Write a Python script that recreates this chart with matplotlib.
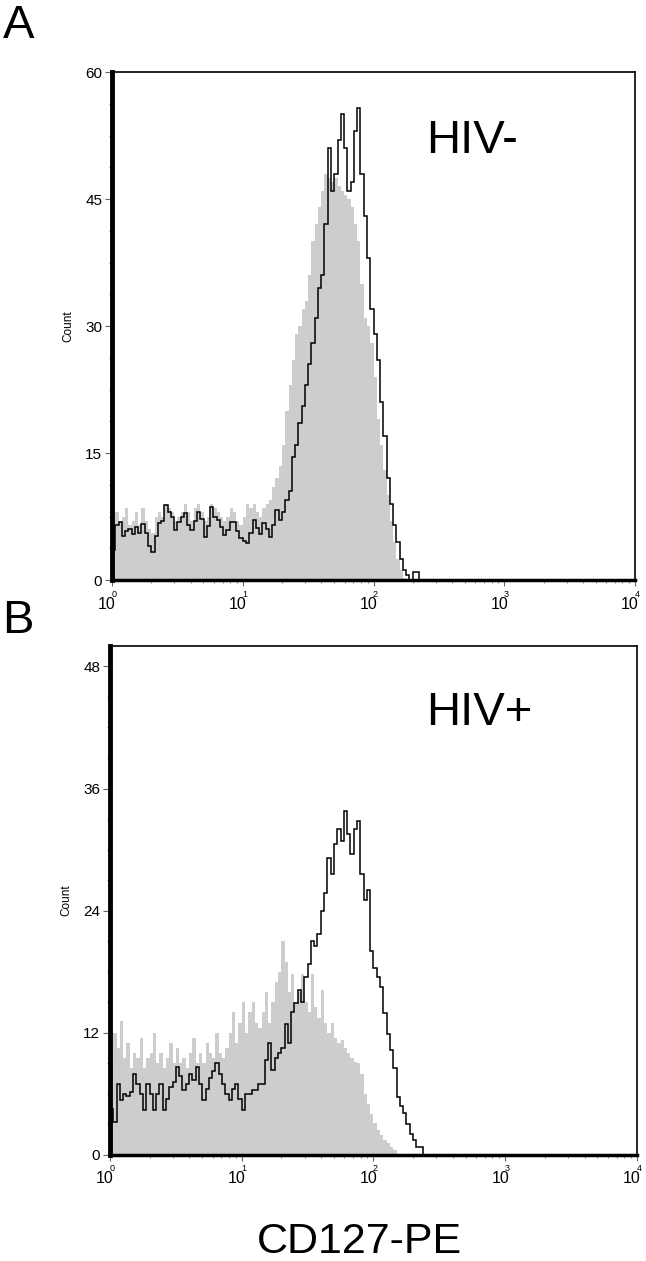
import numpy as np
import matplotlib
matplotlib.use("Agg")
import matplotlib.pyplot as plt
from matplotlib.ticker import FixedLocator, AutoMinorLocator, LogLocator, NullFormatter

plt.rcParams['font.family'] = ['Liberation Sans', 'DejaVu Sans']

# channel width in decades (log10 units), histogram starts at 10^0
bin_width = 0.025

# Panel A (HIV-): black outline histogram and grey filled histogram
hivneg_line = [3.5, 6.5, 6.8, 5.2, 5.8, 6.0, 5.4, 6.3, 5.6, 6.6,
               5.5, 4.0, 3.3, 5.2, 6.7, 7.0, 8.9, 8.0, 7.5, 5.9,
               6.8, 7.4, 7.9, 6.5, 5.9, 7.0, 8.0, 7.2, 5.1, 6.4,
               8.6, 7.5, 7.1, 6.3, 5.3, 5.9, 6.9, 6.9, 5.8, 5.0,
               4.6, 4.4, 5.5, 7.1, 6.2, 5.4, 6.7, 6.0, 5.1, 6.5,
               8.3, 7.1, 8.0, 9.4, 10.5, 14.5, 16.0, 18.5, 20.5, 23.0,
               25.5, 28.0, 31.0, 34.5, 36.0, 42.0, 51.0, 46.0, 48.0, 52.0,
               55.0, 51.0, 46.0, 47.0, 53.0, 55.8, 48.0, 43.0, 38.0, 32.0,
               29.0, 26.0, 21.0, 17.0, 12.0, 9.0, 6.5, 4.5, 2.5, 1.2,
               0.6, 0.0, 1.0, 1.0, 0.0]
hivneg_fill = [6.5, 8.0, 7.0, 7.5, 8.5, 6.5, 7.0, 8.0, 6.5, 8.5,
               7.0, 6.0, 5.5, 7.5, 8.0, 7.5, 9.0, 8.5, 8.0, 7.0,
               7.5, 8.0, 9.0, 8.0, 7.0, 8.5, 9.0, 8.0, 7.0, 7.5,
               9.0, 8.5, 8.0, 7.5, 7.0, 7.5, 8.5, 8.0, 7.0, 6.5,
               7.5, 9.0, 8.5, 9.0, 8.0, 7.5, 8.5, 9.0, 9.5, 11.0,
               12.0, 13.5, 16.0, 20.0, 23.0, 26.0, 29.0, 30.0, 32.0, 33.0,
               36.0, 40.0, 42.0, 44.0, 46.0, 48.0, 47.5, 47.0, 47.5, 46.5,
               46.0, 45.5, 45.0, 44.0, 42.0, 40.0, 35.0, 31.0, 30.0, 28.0,
               24.0, 19.0, 16.0, 13.0, 10.0, 7.0, 4.5, 2.5, 1.2, 0.3,
               0.0]

# Panel B (HIV+)
hivpos_line = [4.5, 3.2, 7.0, 5.4, 6.0, 5.8, 6.2, 8.0, 7.0, 6.0,
               4.4, 7.0, 6.0, 4.4, 6.0, 7.0, 4.4, 5.5, 6.7, 7.2,
               8.6, 7.8, 6.4, 7.0, 8.0, 7.4, 8.6, 7.0, 5.4, 6.5,
               7.6, 8.2, 9.0, 8.0, 7.0, 6.0, 5.4, 6.5, 7.0, 5.5,
               4.4, 6.0, 6.0, 6.4, 6.4, 7.0, 7.0, 9.3, 11.0, 8.3,
               9.5, 10.0, 10.5, 12.9, 11.0, 14.0, 14.9, 16.2, 15.0, 17.5,
               18.8, 21.0, 20.5, 21.7, 24.0, 25.7, 29.2, 27.6, 30.5, 32.0,
               30.8, 33.8, 31.5, 29.6, 32.0, 32.8, 27.6, 25.0, 26.0, 20.0,
               18.4, 17.5, 16.5, 13.9, 11.9, 10.3, 8.5, 5.7, 4.8, 4.1,
               3.0, 2.1, 1.5, 0.8, 0.8, 0.0]
hivpos_fill = [9.0, 12.0, 10.5, 13.2, 9.5, 11.0, 8.5, 10.0, 9.5, 11.5,
               8.5, 9.5, 10.0, 12.0, 9.0, 10.0, 8.5, 9.5, 11.0, 9.0,
               10.5, 9.0, 9.5, 8.5, 10.0, 11.5, 9.0, 10.0, 9.0, 11.0,
               10.0, 9.5, 12.0, 10.0, 9.5, 10.5, 12.0, 14.0, 11.0, 13.0,
               15.0, 12.0, 14.0, 15.0, 13.0, 12.5, 14.0, 16.0, 13.0, 15.0,
               17.0, 18.0, 21.0, 19.0, 16.0, 17.8, 15.0, 16.0, 17.8, 15.0,
               14.0, 17.8, 14.5, 13.5, 16.2, 13.0, 12.0, 13.0, 11.5, 11.0,
               11.3, 10.5, 10.0, 9.5, 9.1, 9.0, 8.0, 6.0, 5.0, 4.0,
               3.1, 2.5, 2.0, 1.5, 1.2, 0.8, 0.5, 0.0]

panels = ["A", "B"]
labels = ["HIV-", "HIV+"]
ymax = [60, 50]
ymajor = [[0, 15, 30, 45, 60], [0, 12, 24, 36, 48]]
xticks = [1, 10, 100, 1000, 10000]
xtick_base = "10"
xtick_exp = ["0", "1", "2", "3", "4"]
xlabel = "CD127-PE"

fig = plt.figure(figsize=(6.46, 12.61), dpi=100)
rects = [[0.1734, 0.540, 0.8096, 0.4029], [0.1703, 0.0841, 0.8157, 0.4036]]
data = [(hivneg_line, hivneg_fill), (hivpos_line, hivpos_fill)]
letter_y = [0.970, 0.498]
label_y = [0.841, 0.845]

for k in range(2):
    ax = fig.add_axes(rects[k])
    line, fill = data[k]
    e_fill = 10 ** (np.arange(len(fill) + 1) * bin_width)
    e_line = 10 ** (np.arange(len(line) + 1) * bin_width)
    ax.stairs(fill, e_fill, fill=True, color="#cdcdcd", lw=0, zorder=1)
    ax.stairs(line, e_line, color="black", lw=1.1, zorder=2)
    ax.set_xscale("log")
    ax.set_xlim(1, 1e4)
    ax.set_ylim(0, ymax[k])
    ax.yaxis.set_major_locator(FixedLocator(ymajor[k]))
    ax.yaxis.set_minor_locator(AutoMinorLocator(4))
    ax.set_xticks(xticks)
    ax.set_xticklabels([""] * len(xticks))
    ax.xaxis.set_minor_locator(LogLocator(base=10, subs=np.arange(2, 10)))
    ax.xaxis.set_minor_formatter(NullFormatter())
    ax.tick_params(axis="y", which="major", direction="out", length=5, width=0.8,
                   color="#666666", labelsize=11, pad=2)
    ax.tick_params(axis="y", which="minor", direction="out", length=2.5, width=0.8,
                   color="#888888")
    ax.tick_params(axis="x", which="major", direction="out", length=4, width=0.8,
                   color="#666666")
    ax.tick_params(axis="x", which="minor", direction="out", length=2.5, width=0.8,
                   color="#888888")
    for v, e in zip(xticks, xtick_exp):
        ax.annotate(xtick_base, xy=(v, 0), xycoords=("data", "axes fraction"),
                    xytext=(-5, -24), textcoords="offset pixels",
                    ha="center", va="center", fontsize=11.5)
        ax.annotate(e, xy=(v, 0), xycoords=("data", "axes fraction"),
                    xytext=(2, -14), textcoords="offset pixels",
                    ha="center", va="center", fontsize=6.5)
    ax.spines["left"].set_linewidth(3.5)
    ax.spines["bottom"].set_linewidth(2.5)
    ax.spines["top"].set_linewidth(1.2)
    ax.spines["right"].set_linewidth(1.2)
    ax.set_ylabel("Count", fontsize=8.5, labelpad=8)
    ax.text(0.60, label_y[k], labels[k], transform=ax.transAxes, fontsize=34,
            ha="left", va="baseline")
    fig.text(0.004, letter_y[k], panels[k], fontsize=34, ha="left", va="baseline")
    if k == 1:
        fig.text(0.556, 0.0065, xlabel, fontsize=31, ha="center", va="baseline")

fig.savefig("out.png", dpi=100)
